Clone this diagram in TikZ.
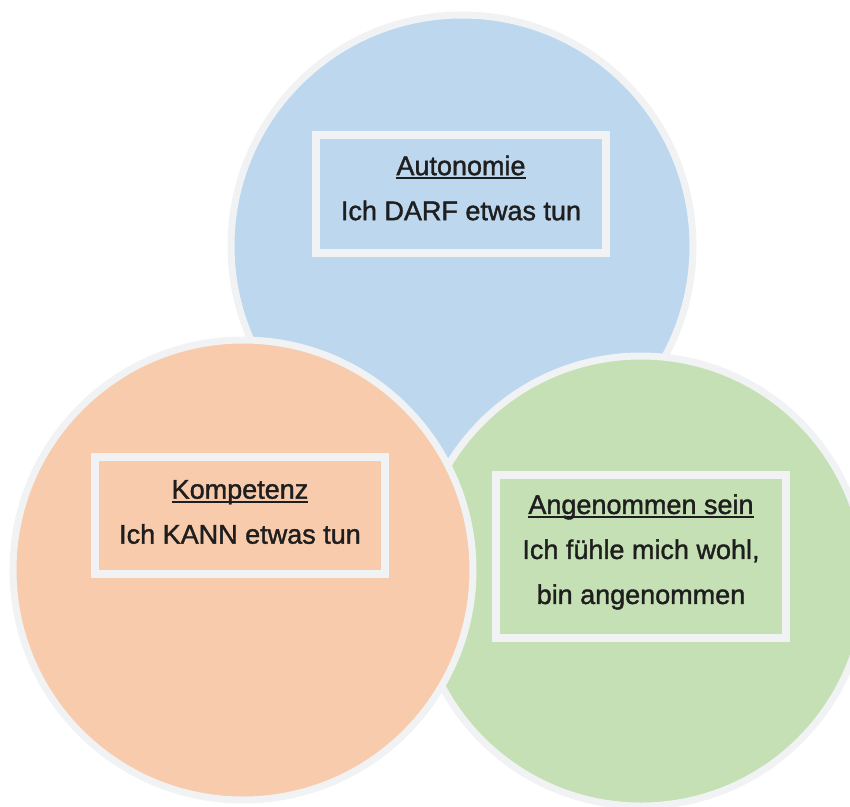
\documentclass[tikz,border=0pt]{standalone}
\usepackage{fontspec}
\setmainfont{Liberation Sans}
\newfontfamily\needfont{Liberation Sans}[FakeBold=1.4]
\definecolor{needBlue}{HTML}{BDD7EE}
\definecolor{needOrange}{HTML}{F8CBAD}
\definecolor{needGreen}{HTML}{C5E0B4}
\definecolor{needRim}{HTML}{F0F2F4}
\definecolor{needInk}{HTML}{1E1E1E}
\newcommand{\needTitle}[1]{\sbox0{#1}\rlap{\rule[-4pt]{\wd0}{2pt}}\usebox0}

\tikzset{
  needcircle/.style={circle, draw=needRim, line width=7pt, inner sep=0pt, minimum size=#1},
  needbox/.style={draw=needRim, line width=8pt, minimum width=290pt},
  needtext/.style={text=needInk, align=center, inner sep=0pt,
    font=\needfont\fontsize{27}{45}\selectfont}
}

\begin{document}
\begin{tikzpicture}[x=1pt, y=-1pt]
  \useasboundingbox (0,0) rectangle (850,806);
  % circles: blue below, green, orange on top
  \node[needcircle=462pt, fill=needBlue] (cAuto) at (462,246) {};
  \node[needcircle=450pt, fill=needGreen] (cAngen) at (641,581) {};
  \node[needcircle=460pt, fill=needOrange] (cKomp) at (243,570) {};
  % text boxes
  \node[needbox, fill=needBlue, minimum height=118pt] (autonomie) at (461,194) {};
  \node[needbox, fill=needOrange, minimum height=117pt] (kompetenz) at (240,515) {};
  \node[needbox, fill=needGreen, minimum height=163pt] (angenommen) at (641,556) {};
  % labels
  \node[needtext, yshift=6pt] (autonomieText) at (autonomie.center)
    {\needTitle{Autonomie}\\Ich DARF etwas tun};
  \node[needtext, yshift=3pt] (kompetenzText) at (kompetenz.center)
    {\needTitle{Kompetenz}\\Ich KANN etwas tun};
  \node[needtext, yshift=4pt] (angenommenText) at (angenommen.center)
    {\needTitle{Angenommen sein}\\Ich f\"uhle mich wohl,\\bin angenommen};
\end{tikzpicture}
\end{document}
